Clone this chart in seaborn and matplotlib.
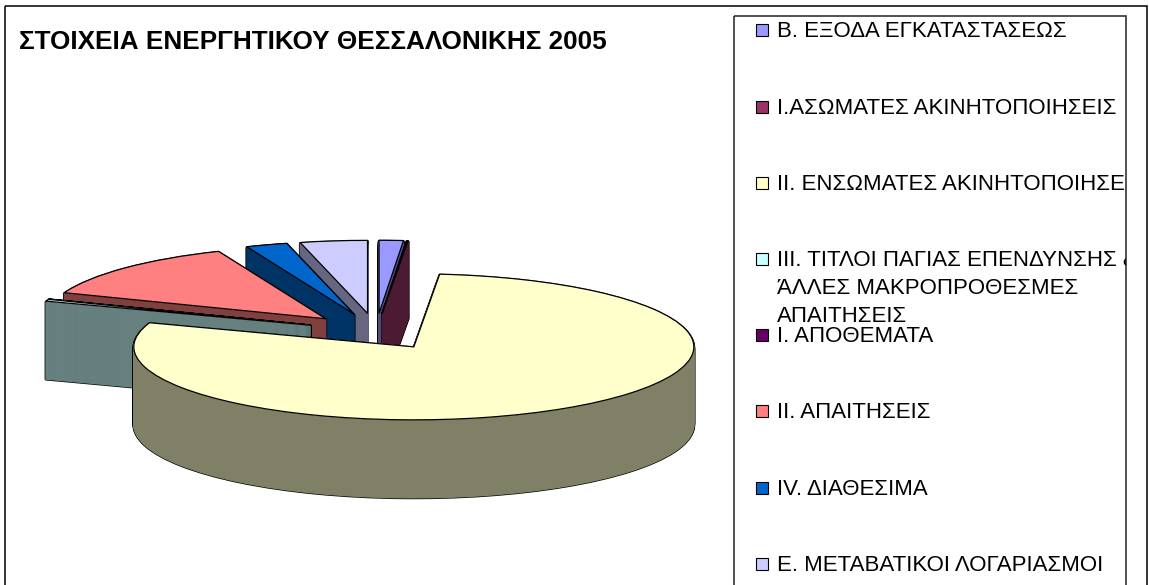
import matplotlib
matplotlib.use("Agg")
import matplotlib.pyplot as plt
from matplotlib.patches import Rectangle
import seaborn as sns

W, H = 1149, 585

title = "ΣΤΟΙΧΕΙΑ ΕΝΕΡΓΗΤΙΚΟΥ ΘΕΣΣΑΛΟΝΙΚΗΣ 2005"
categories = [
    "Β. ΕΞΟΔΑ ΕΓΚΑΤΑΣΤΑΣΕΩΣ",
    "Ι.ΑΣΩΜΑΤΕΣ ΑΚΙΝΗΤΟΠΟΙΗΣΕΙΣ",
    "ΙΙ. ΕΝΣΩΜΑΤΕΣ ΑΚΙΝΗΤΟΠΟΙΗΣΕΙΣ",
    "ΙΙΙ. ΤΙΤΛΟΙ ΠΑΓΙΑΣ ΕΠΕΝΔΥΝΣΗΣ &\nΆΛΛΕΣ ΜΑΚΡΟΠΡΟΘΕΣΜΕΣ\nΑΠΑΙΤΗΣΕΙΣ",
    "Ι. ΑΠΟΘΕΜΑΤΑ",
    "ΙΙ. ΑΠΑΙΤΗΣΕΙΣ",
    "IV. ΔΙΑΘΕΣΙΜΑ",
    "Ε. ΜΕΤΑΒΑΤΙΚΟΙ ΛΟΓΑΡΙΑΣΜΟΙ",
]
# in percent of the whole
values = [1.39, 0.08, 78.8, 0.42, 0.03, 12.92, 2.39, 3.86]
top_colors = ["#9999FF", "#993366", "#FFFFCC", "#CCFFFF", "#660066", "#FF8080", "#0066CC", "#CCCCFF"]
side_colors = ["#4D4D80", "#4D1A33", "#808066", "#668080", "#330033", "#804040", "#003366", "#666680"]
# which slice is painted over which, back ones first
paint_order = [7, 6, 5, 4, 3, 0, 1, 2]

explode = 0.25
rx, ry = 280, 73   # pixels per pie radius
cx, cy = 376, 331.5
depth = 78

sns.set_theme(style="white")
plt.rcParams["font.family"] = ["Liberation Sans", "DejaVu Sans"]

fig = plt.figure(figsize=((W + 0.01) / 100, (H + 0.01) / 100), dpi=100)
ax = fig.add_axes([0, 0, 1, 1])


def draw_layer(k):
    wedges, _ = ax.pie(values, explode=[explode] * len(values), startangle=90, counterclock=False,
                       center=(0, -k / ry), radius=1)
    return wedges


# stack of pies from the bottom up makes the 3d body
for k in range(depth, -1, -1):
    for i, w in enumerate(draw_layer(k)):
        base = paint_order.index(i) * 10
        if k == 0:
            w.set(facecolor=top_colors[i], edgecolor=top_colors[i], linewidth=0.3, zorder=base + 5)
        else:
            w.set(facecolor=side_colors[i], edgecolor=side_colors[i], linewidth=1.0, joinstyle="round",
                  zorder=base + 2 + (depth - k) / (depth + 1))

# wider black stack underneath leaves the outline of the body, top face gets its own line
for k in range(depth, -1, -1):
    for i, w in enumerate(draw_layer(k)):
        base = paint_order.index(i) * 10
        if k == 0:
            w.set(facecolor="none", edgecolor="black", linewidth=0.9, joinstyle="round", zorder=base + 6)
        else:
            w.set(facecolor="black", edgecolor="black", linewidth=2.0, joinstyle="round", zorder=base + 1)

ax.set_aspect("auto")
ax.set_xlim(-cx / rx, (W - cx) / rx)
ax.set_ylim(-(H - cy) / ry, cy / ry)

# frame, title and legend sit on a pixel axes over the pie
px = fig.add_axes([0, 0, 1, 1], facecolor="none")
px.set_xlim(0, W)
px.set_ylim(H, 0)
px.axis("off")

px.add_patch(Rectangle((4.5, 6), 1142.5, 600, fill=False, ec="black", lw=1.1, clip_on=False))
px.add_patch(Rectangle((734, 16), 392, 600, fill=False, ec="#333333", lw=1.2, clip_on=False))
clip = Rectangle((734, 16), 392, 600, transform=px.transData)

px.text(19, 42, title, fontsize=18.8, fontweight="bold", va="center", ha="left", color="black")

legend_y = [31, 108, 184, 260, 336, 412, 489, 565]
for name, col, y in zip(categories, top_colors, legend_y):
    px.add_patch(Rectangle((756, y - 7), 12, 12, fc=col, ec="black", lw=0.8))
    for j, line in enumerate(name.split("\n")):
        t = px.text(777, y + j * 28, line, fontsize=16, va="center", ha="left", color="black")
        t.set_clip_on(True)
        t.set_clip_path(clip)

fig.savefig("out.png", dpi=100)
